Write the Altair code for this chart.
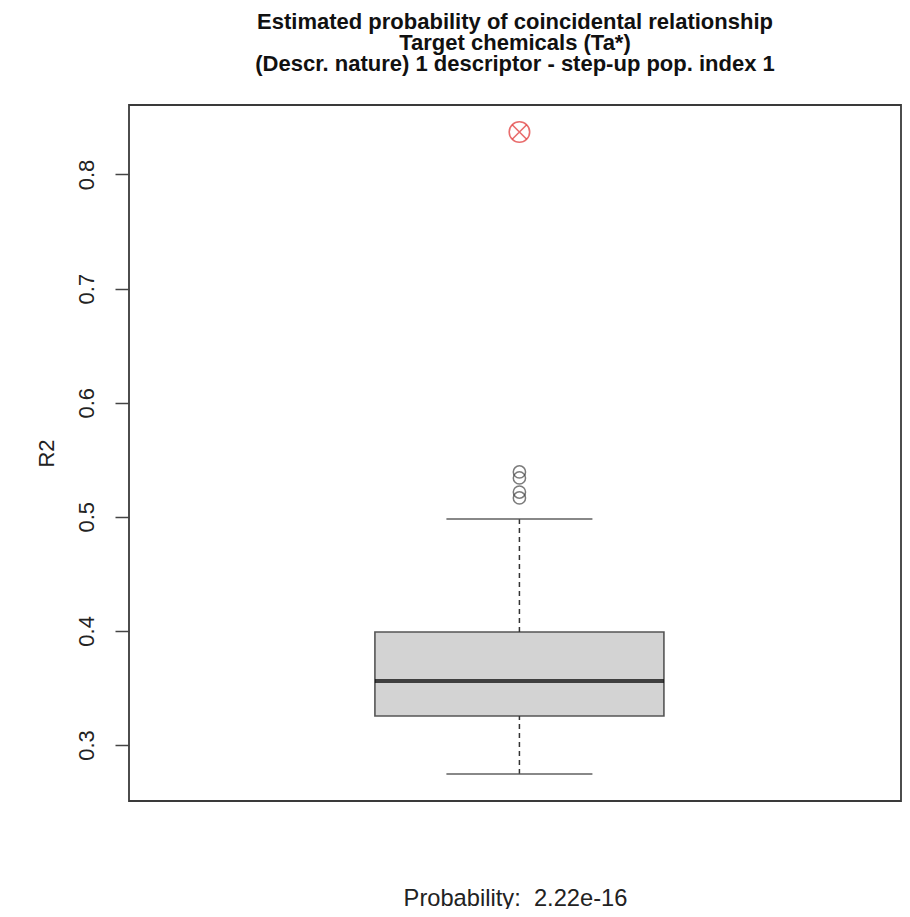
import altair as alt
import pandas as pd

# Box summary
pos = [1]
lower = [0.2746]
q1 = [0.3254]
median = [0.3561]
q3 = [0.3990]
upper = [0.4980]

# Outliers
out_pos = [1, 1, 1, 1]
out_r2 = [0.5393, 0.5340, 0.5217, 0.5165]

# Observed value (red)
obs_pos = [1]
obs_r2 = [0.8372]

title_lines = [
    "Estimated probability of coincidental relationship",
    "Target chemicals (Ta*)",
    "(Descr. nature) 1 descriptor - step-up pop. index 1",
]
x_label = "Probability: \u00a02.22e-16"
y_label = "R2"
y_ticks = [0.3, 0.4, 0.5, 0.6, 0.7, 0.8]

summary = pd.DataFrame({"pos": pos, "lower": lower, "q1": q1, "median": median,
                        "q3": q3, "upper": upper})
outl = pd.DataFrame({"pos": out_pos, "r2": out_r2})
obs = pd.DataFrame({"pos": obs_pos, "r2": obs_r2})

FONT = "Liberation Sans"

xscale = alt.Scale(domain=[0.4942, 1.4942], nice=False, zero=False)
yscale = alt.Scale(domain=[0.2509, 0.8609], nice=False, zero=False)

xaxis = alt.Axis(labels=False, ticks=False, domain=False, grid=False,
                 titleFontSize=23.7, titleFontWeight="normal", titleFont=FONT,
                 titleColor="#222", titleY=104, titleBaseline="alphabetic")
yaxis = alt.Axis(values=y_ticks, format=".1f", labelAngle=-90, labelAlign="center",
                 labelBaseline="alphabetic", labelPadding=22, labelFontSize=22,
                 labelFont=FONT, labelColor="#222", tickSize=14, tickColor="#444",
                 tickWidth=1.5, domain=False, grid=False, titleFontSize=22,
                 titleFontWeight="normal", titleFont=FONT, titleAngle=-90,
                 titleX=-76, titleY=348, titleAlign="center",
                 titleBaseline="alphabetic", titleColor="#222")


def X():
    return alt.X("pos:Q", scale=xscale, axis=xaxis, title=x_label)


def Y(field):
    return alt.Y(field, type="quantitative", scale=yscale, axis=yaxis, title=y_label)


base_s = alt.Chart(summary)

box = base_s.mark_bar(size=289, fill="#d3d3d3", stroke="#555", strokeWidth=1.6).encode(
    x=X(), y=Y("q1"), y2="q3")
med = base_s.mark_tick(orient="horizontal", size=289, thickness=4, color="#000").encode(
    x=X(), y=Y("median"))
wh_up = base_s.mark_rule(color="#333", strokeDash=[5, 4], strokeWidth=1.5).encode(
    x=X(), y=Y("q3"), y2="upper")
wh_lo = base_s.mark_rule(color="#333", strokeDash=[5, 4], strokeWidth=1.5).encode(
    x=X(), y=Y("lower"), y2="q1")
cap_up = base_s.mark_tick(orient="horizontal", size=146, thickness=2, color="#555").encode(
    x=X(), y=Y("upper"))
cap_lo = base_s.mark_tick(orient="horizontal", size=146, thickness=2, color="#555").encode(
    x=X(), y=Y("lower"))

pts = alt.Chart(outl).mark_point(shape="circle", filled=False, size=150, color="#444",
                                 strokeWidth=1.5).encode(x=X(), y=Y("r2"))

red_c = alt.Chart(obs).mark_point(shape="circle", filled=False, size=420, color="#e03030",
                                  strokeWidth=1.6).encode(x=X(), y=Y("r2"))
red_x = alt.Chart(obs).mark_point(
    shape="M-0.707,-0.707L0.707,0.707M-0.707,0.707L0.707,-0.707",
    filled=False, size=420, color="#e03030", strokeWidth=1.6).encode(x=X(), y=Y("r2"))

chart = alt.layer(box, wh_up, wh_lo, cap_up, cap_lo, med, pts, red_c, red_x).properties(
    width=772, height=696,
    padding={"left": 121, "top": 97, "right": 1, "bottom": 108},
    autosize=alt.AutoSizeParams(type="none"),
    title=alt.TitleParams(text=title_lines, fontSize=22, fontWeight="bold", font=FONT,
                          color="#111", lineHeight=21, anchor="middle", offset=12,
                          baseline="alphabetic"),
    background="white",
).configure_view(stroke="#3a3a3a", strokeWidth=1.8)

chart.save("out.html", embed_options={"renderer": "svg", "actions": False})
